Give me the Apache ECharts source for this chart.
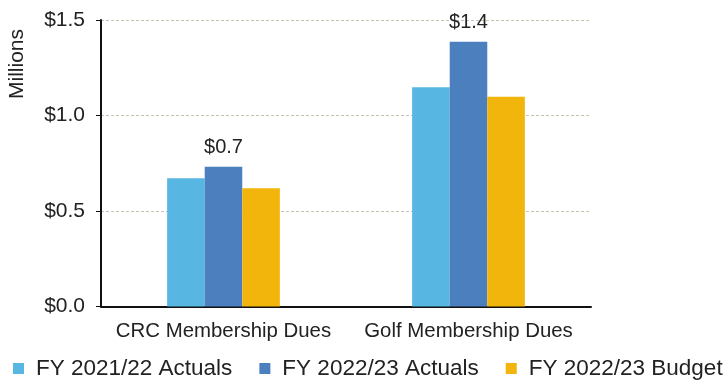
<!DOCTYPE html>
<html>
<head>
<meta charset="utf-8">
<script src="https://cdn.jsdelivr.net/npm/echarts@6/dist/echarts.min.js"></script>
<style>
  html, body { margin: 0; padding: 0; background: #fff; }
  #chart { width: 727px; height: 381px; }
</style>
</head>
<body>
<div id="chart"></div>
<script>
// Membership dues by fiscal year, in millions of dollars
const categories = ['CRC Membership Dues', 'Golf Membership Dues'];
const seriesNames = ['FY 2021/22 Actuals', 'FY 2022/23 Actuals', 'FY 2022/23 Budget'];
const actuals2122 = [0.671, 1.148];
const actuals2223 = [0.732, 1.386];
const budget2223 = [0.619, 1.098];
const yTicks = [0, 0.5, 1.0, 1.5];

const colors = ['#57b6e2', '#4b7fbe', '#f2b50c'];
const font = 'Liberation Sans, Arial, sans-serif';
const ink = '#222';

const chart = echarts.init(document.getElementById('chart'));

function money(v) { return '$' + Number(v).toFixed(1); }

chart.setOption({
  animation: false,
  color: colors,
  textStyle: { fontFamily: font },
  grid: { left: 101, right: 136, top: 20, bottom: 74.5, containLabel: false },
  graphic: [{
    type: 'text',
    x: 17, y: 64,
    rotation: Math.PI / 2,
    style: {
      text: 'Millions',
      fontFamily: font, fontSize: 21, fill: ink,
      textAlign: 'center', textVerticalAlign: 'middle'
    }
  }],
  legend: {
    bottom: 1,
    left: 13,
    padding: 0,
    itemWidth: 11,
    itemHeight: 11,
    itemGap: 27,
    icon: 'rect',
    textStyle: { fontFamily: font, fontSize: 22.5, color: ink, padding: [0, 0, 0, 7] },
    data: seriesNames
  },
  xAxis: {
    type: 'category',
    data: categories,
    axisLine: { lineStyle: { color: '#111', width: 2 } },
    axisTick: { alignWithLabel: true, length: 5, lineStyle: { color: '#111' } },
    axisLabel: { interval: 0, fontFamily: font, fontSize: 20.4, color: ink, margin: 15 }
  },
  yAxis: {
    type: 'value',
    min: yTicks[0],
    max: yTicks[yTicks.length - 1],
    interval: 0.5,
    axisLine: { show: true, lineStyle: { color: '#111', width: 2 } },
    axisTick: { show: true, length: 5, lineStyle: { color: '#111' } },
    axisLabel: { fontFamily: font, fontSize: 21, color: ink, margin: 16, formatter: money },
    splitLine: { lineStyle: { color: '#c9c3b6', type: [3, 2], width: 1 } }
  },
  series: [
    {
      name: seriesNames[0], type: 'bar', data: actuals2122,
      barGap: '0%', barCategoryGap: '54%'
    },
    {
      name: seriesNames[1], type: 'bar', data: actuals2223,
      barGap: '0%', barCategoryGap: '54%',
      label: {
        show: true, position: 'top', distance: 9,
        fontFamily: font, fontSize: 20, color: ink,
        formatter: p => money(p.value)
      }
    },
    {
      name: seriesNames[2], type: 'bar', data: budget2223,
      barGap: '0%', barCategoryGap: '54%'
    }
  ]
});
</script>
</body>
</html>
